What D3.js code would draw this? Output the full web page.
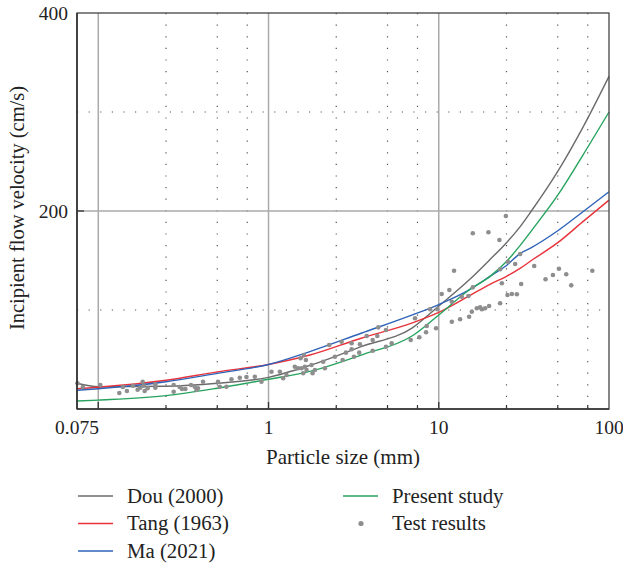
<!DOCTYPE html>
<html>
<head>
<meta charset="utf-8">
<script src="https://cdn.jsdelivr.net/npm/d3@7"></script>
<style>
  body { margin: 0; background: #fff; }
  svg { display: block; }
</style>
</head>
<body>
<svg id="chart" width="623" height="567" font-family="'Liberation Serif', 'DejaVu Serif', serif"></svg>
<script>
// curve sample points (particle size in mm)
const sizes = [0.075, 0.1, 0.25, 0.5, 1, 1.75, 3.5, 7, 10, 15, 20, 25, 30, 35, 50, 70, 100];
const dou     = [26, 22.5, 23, 26, 32, 44, 63, 82, 104, 130, 151, 168, 184, 200, 240, 284, 336];
const tang    = [20.5, 22, 29, 37.5, 45, 54.5, 71.5, 87, 97.5, 114, 126, 134, 142, 150, 168, 189, 211];
const ma      = [19, 20.5, 27.5, 36, 45, 58, 76.5, 95, 105.5, 120, 134, 145, 157, 163, 180, 199, 219.5];
const present = [8, 9, 13.5, 21, 30, 38, 54.5, 74, 95, 120, 134, 149, 165, 180, 216, 256, 300];

// test results
const testSize = [0.0755, 0.0812, 0.1028, 0.1329, 0.1395, 0.1473, 0.1598, 0.1703, 0.1766, 0.1823,
  0.1848, 0.1873, 0.195, 0.2164, 0.2164, 0.2773, 0.2773, 0.3008, 0.3102, 0.3249,
  0.3505, 0.3685, 0.3853, 0.4123, 0.377, 0.5053, 0.517, 0.566, 0.6058, 0.678,
  0.742, 0.831, 0.909, 1.041, 1.166, 1.219, 1.276, 1.428, 1.494, 1.635,
  1.673, 1.543, 1.613, 1.658, 1.564, 1.598, 1.79, 1.815, 1.873, 2.096,
  2.144, 2.272, 2.455, 2.688, 2.725, 2.85, 3.078, 3.078, 3.176, 3.444,
  3.411, 3.772, 4.091, 4.091, 4.353, 4.413, 4.898, 4.898, 5.291, 6.843,
  7.689, 7.254, 8.421, 8.501, 8.889, 9.641, 9.812, 10.41, 11.54, 11.93,
  12.3, 11.93, 13.35, 13.65, 14.94, 15.08, 15.64, 15.85, 15.85, 16.73,
  17.5, 17.9, 18.72, 19.58, 19.76, 22.72, 22.94, 22.94, 23.48, 24.79,
  25.47, 25.33, 26.88, 28.11, 28.76, 30.08, 30.49, 36.36, 42.38, 46.85,
  50.8, 56.08, 60.0, 79.8];
const testVel = [26.0, 22.2, 24.2, 16.2, 22.2, 18.2, 23.5, 19.5, 21.5, 27.6,
  23.5, 18.2, 20.9, 21.5, 24.9, 24.2, 17.5, 22.2, 20.2, 20.2,
  24.2, 22.5, 20.9, 27.6, 19.2, 27.6, 22.5, 22.5, 30.0, 31.6,
  32.3, 32.6, 27.6, 37.7, 37.7, 31.0, 34.3, 42.7, 41.1, 42.7,
  39.4, 51.2, 54.5, 49.5, 41.1, 36.1, 44.4, 36.1, 39.4, 47.8,
  41.1, 64.6, 52.8, 68.0, 49.5, 56.9, 66.4, 60.3, 52.8, 65.4,
  56.9, 73.7, 69.7, 58.9, 73.7, 82.5, 79.8, 62.9, 66.4, 69.7,
  72.4, 91.6, 77.5, 83.8, 100.7, 81.5, 100.7, 116.2, 120.2, 108.4,
  139.7, 88.2, 90.6, 113.4, 114.1, 93.2, 98.3, 122.9, 177.5, 101.7,
  102.7, 100.7, 101.7, 178.5, 104.0, 170.7, 141.1, 106.8, 127.0, 195.0,
  148.8, 115.2, 116.2, 146.5, 115.9, 156.6, 126.3, 144.4, 131.0, 135.4,
  141.7, 136.1, 124.9, 139.7];

const majorX = [0.1, 1, 10];
const minorX = [0.25, 0.5, 0.75, 2.5, 5, 7.5, 25, 50, 75];
const xLabels = [0.075, 1, 10, 100];
const yLabels = [200, 400];
const minorY = [100, 300];

const margin = {top: 13, right: 14, bottom: 158, left: 77};
const width = 623 - margin.left - margin.right;
const height = 567 - margin.top - margin.bottom;

const svg = d3.select("#chart");
const g = svg.append("g").attr("transform", `translate(${margin.left},${margin.top})`);

const x = d3.scaleLog().domain([0.075, 100]).range([0, width]);
const y = d3.scaleLinear().domain([0, 400]).range([height, 0]);

// grid
g.selectAll(".minor-x").data(minorX).enter().append("line")
  .attr("x1", d => x(d)).attr("x2", d => x(d))
  .attr("y1", 0).attr("y2", height)
  .attr("stroke", "#555").attr("stroke-width", 1.2)
  .attr("stroke-dasharray", "1.2,10.4");
g.selectAll(".minor-y").data(minorY).enter().append("line")
  .attr("x1", 0).attr("x2", width)
  .attr("y1", d => y(d)).attr("y2", d => y(d))
  .attr("stroke", "#555").attr("stroke-width", 1.2)
  .attr("stroke-dasharray", "1.2,10.4");
g.selectAll(".major-x").data(majorX).enter().append("line")
  .attr("x1", d => x(d)).attr("x2", d => x(d))
  .attr("y1", 0).attr("y2", height)
  .attr("stroke", "#aaa").attr("stroke-width", 1.5);
g.append("line")
  .attr("x1", 0).attr("x2", width)
  .attr("y1", y(200)).attr("y2", y(200))
  .attr("stroke", "#aaa").attr("stroke-width", 1.5);

// inward ticks
g.selectAll(".tick-major").data(majorX).enter().append("line")
  .attr("x1", d => x(d)).attr("x2", d => x(d))
  .attr("y1", height).attr("y2", height - 7)
  .attr("stroke", "#333").attr("stroke-width", 1.3);
g.selectAll(".tick-minor").data(minorX).enter().append("line")
  .attr("x1", d => x(d)).attr("x2", d => x(d))
  .attr("y1", height).attr("y2", height - 4)
  .attr("stroke", "#333").attr("stroke-width", 1.2);
g.append("line")
  .attr("x1", 0).attr("x2", 7)
  .attr("y1", y(200)).attr("y2", y(200))
  .attr("stroke", "#333").attr("stroke-width", 1.3);

// curves
const series = [
  {name: "Dou (2000)", values: dou, color: "#6b6b6b"},
  {name: "Tang (1963)", values: tang, color: "#e8333b"},
  {name: "Ma (2021)", values: ma, color: "#2f63b8"},
  {name: "Present study", values: present, color: "#27a35e"}
];
const line = d3.line()
  .x((d, i) => x(sizes[i]))
  .y(d => y(d))
  .curve(d3.curveMonotoneX);

g.selectAll(".curve").data(series).enter().append("path")
  .attr("d", d => line(d.values))
  .attr("fill", "none")
  .attr("stroke", d => d.color)
  .attr("stroke-width", 1.4);

// test points
g.selectAll(".dot").data(testSize).enter().append("circle")
  .attr("cx", d => x(d))
  .attr("cy", (d, i) => y(testVel[i]))
  .attr("r", 2.3)
  .attr("fill", "#8e8e8e");

// frame
g.append("rect")
  .attr("width", width).attr("height", height)
  .attr("fill", "none").attr("stroke", "#444").attr("stroke-width", 1.3);
g.append("line").attr("x1", 0).attr("x2", 0).attr("y1", 0).attr("y2", height)
  .attr("stroke", "#333").attr("stroke-width", 1.6);
g.append("line").attr("x1", 0).attr("x2", width).attr("y1", height).attr("y2", height)
  .attr("stroke", "#333").attr("stroke-width", 1.6);

// tick labels
g.selectAll(".xl").data(xLabels).enter().append("text")
  .attr("x", d => x(d)).attr("y", height + 25)
  .attr("text-anchor", "middle")
  .attr("fill", "#222")
  .style("font-size", "19.5px")
  .text(d => d);
g.selectAll(".yl").data(yLabels).enter().append("text")
  .attr("x", -9).attr("y", d => y(d) + 6.5)
  .attr("text-anchor", "end")
  .attr("fill", "#222")
  .style("font-size", "19.5px")
  .text(d => d);

// axis titles
g.append("text")
  .attr("x", width / 2).attr("y", height + 55)
  .attr("text-anchor", "middle")
  .attr("fill", "#222")
  .style("font-size", "21px")
  .text("Particle size (mm)");
svg.append("text")
  .attr("transform", `translate(24,${margin.top + 195}) rotate(-90)`)
  .attr("text-anchor", "middle")
  .attr("fill", "#222")
  .style("font-size", "20.5px")
  .text("Incipient flow velocity (cm/s)");

// legend
const legendItems = [
  {name: "Dou (2000)", color: "#6b6b6b", type: "line", col: 0, row: 0},
  {name: "Tang (1963)", color: "#e8333b", type: "line", col: 0, row: 1},
  {name: "Ma (2021)", color: "#2f63b8", type: "line", col: 0, row: 2},
  {name: "Present study", color: "#27a35e", type: "line", col: 1, row: 0},
  {name: "Test results", color: "#8e8e8e", type: "dot", col: 1, row: 1}
];
const lg = svg.append("g").attr("transform", "translate(78,496)");
const item = lg.selectAll(".item").data(legendItems).enter().append("g")
  .attr("transform", d => `translate(${d.col * 265},${d.row * 27.5})`);
item.filter(d => d.type === "line").append("line")
  .attr("x1", 0).attr("x2", 35).attr("y1", 0).attr("y2", 0)
  .attr("stroke", d => d.color).attr("stroke-width", 1.4);
item.filter(d => d.type === "dot").append("circle")
  .attr("cx", 18).attr("cy", 0).attr("r", 2.6)
  .attr("fill", d => d.color);
item.append("text")
  .attr("x", 49).attr("y", 6.5)
  .attr("fill", "#222")
  .style("font-size", "20.8px")
  .text(d => d.name);
</script>
</body>
</html>
